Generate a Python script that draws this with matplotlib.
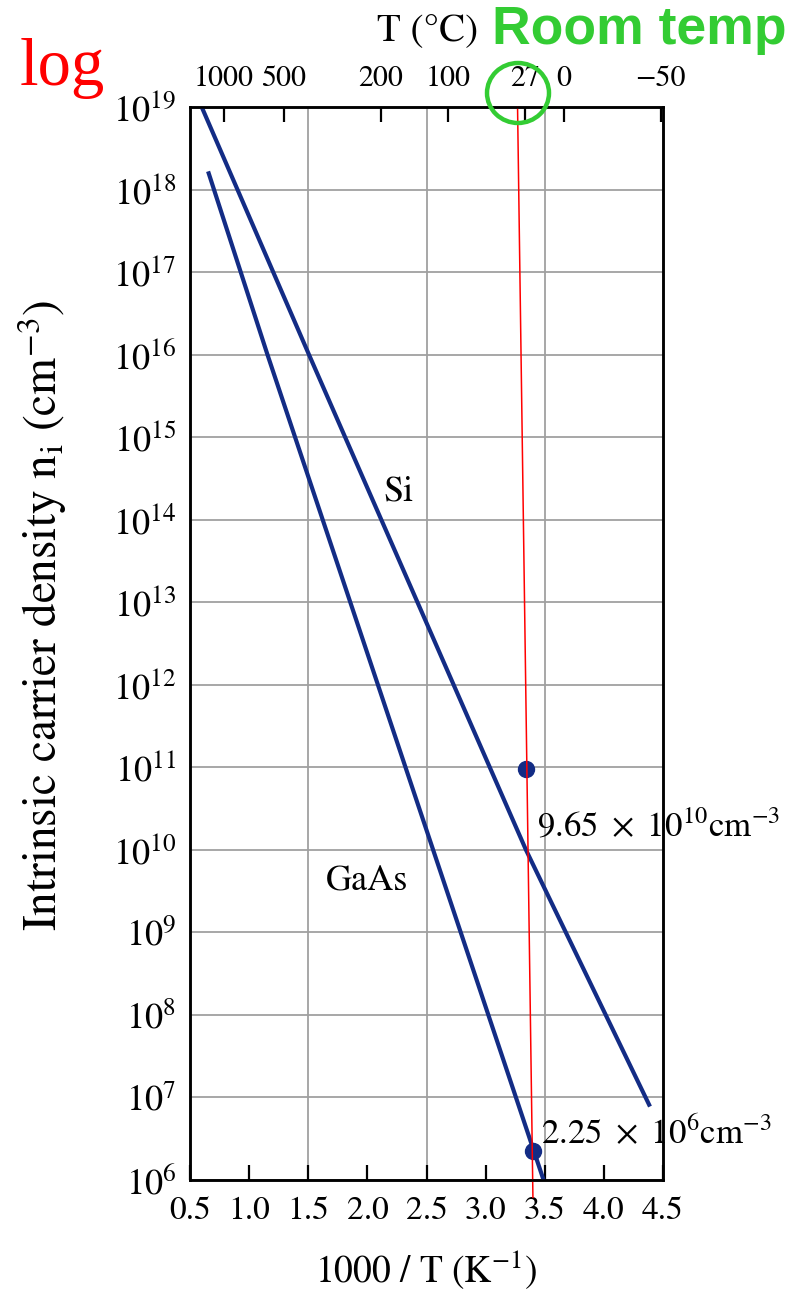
import numpy as np
import matplotlib
matplotlib.use("Agg")
import matplotlib.pyplot as plt
from matplotlib.patches import Ellipse
from matplotlib.ticker import NullLocator, FixedFormatter

plt.rcParams["font.family"] = ["STIXGeneral", "DejaVu Serif"]
plt.rcParams["mathtext.fontset"] = "stix"

# Intrinsic carrier density curves: 1000/T (1/K) vs n_i (cm^-3)
si_inv_t = [0.599, 1.506, 3.341, 4.39]
si_ni = [1e19, 1e16, 1e10, 10 ** 6.89]
gaas_inv_t = [0.653, 1.155, 3.49]
gaas_ni = [10 ** 18.22, 1e16, 1e6]

# Room-temperature values
si_rt_x, si_rt_ni = 3.34, 9.65e10
gaas_rt_x, gaas_rt_ni = 3.40, 2.25e6

# Axis ticks
bottom_ticks = [0.5, 1.0, 1.5, 2.0, 2.5, 3.0, 3.5, 4.0, 4.5]
top_celsius = [1000, 500, 200, 100, 27, 0, -50]
x_grid = [1.5, 2.5, 3.5]
decades = list(range(6, 20))

# Room-temperature guide line (1000/T, n_i)
rt_line_x = [3.27, 3.40]
rt_line_y = [1e19, 10 ** 5.79]

W, H = 801, 1298
fig = plt.figure(figsize=(W / 100, H / 100), dpi=100)
ax = fig.add_axes([190 / W, 1 - 1180 / H, 473 / W, 1073 / H])

navy = "#132c85"
ax.set_xlim(0.5, 4.5)
ax.set_yscale("log")
ax.set_ylim(1e6, 1e19)

for d in decades:
    ax.axhline(10.0 ** d, color="#a0a0a0", lw=1.3, zorder=1)
for xg in x_grid:
    ax.axvline(xg, color="#a0a0a0", lw=1.3, zorder=1)

ax.plot(si_inv_t, si_ni, color=navy, lw=3.0, zorder=3, solid_capstyle="butt")
ax.plot(gaas_inv_t, gaas_ni, color=navy, lw=3.0, zorder=3, solid_capstyle="butt")
ax.plot([si_rt_x, gaas_rt_x], [si_rt_ni, gaas_rt_ni], "o", color=navy,
        ms=11.5, zorder=4)

ax.plot(rt_line_x, rt_line_y, color="red", lw=1.1, zorder=5, clip_on=False)


def sci_label(v):
    e = int(np.floor(np.log10(v)))
    m = v / 10 ** e
    return rf"${m:.2f}\ \times\ 10^{{{e}}}\mathrm{{cm}}^{{-3}}$"


ax.text(3.434, 10 ** 10.28, sci_label(si_rt_ni), fontsize=25, va="center",
        ha="left", clip_on=False, zorder=6)
ax.text(3.468, 10 ** 6.555, sci_label(gaas_rt_ni), fontsize=25, va="center",
        ha="left", clip_on=False, zorder=6)
ax.text(2.259, 10 ** 14.34, "Si", fontsize=26, ha="center", va="center")
ax.text(1.997, 10 ** 9.62, "GaAs", fontsize=26, ha="center", va="center")

ax.set_yticks([10.0 ** d for d in decades])
ax.yaxis.set_major_formatter(
    FixedFormatter([rf"$10^{{{d}}}$" for d in decades]))
ax.yaxis.set_minor_locator(NullLocator())
ax.tick_params(axis="y", which="both", length=0, labelsize=26, pad=10)

ax.set_xticks(bottom_ticks)
ax.set_xticklabels([f"{t:.1f}" for t in bottom_ticks])
ax.tick_params(axis="x", direction="in", length=11, width=1.6, labelsize=24,
               pad=12)

top = ax.twiny()
top.set_xlim(ax.get_xlim())
top.set_xticks([1000.0 / (c + 273.15) for c in top_celsius])
top.set_xticklabels([str(c).replace("-", "\u2212") for c in top_celsius])
top.tick_params(axis="x", direction="in", length=11, width=1.6, labelsize=21.5,
                pad=10)

for a in (ax, top):
    for s in a.spines.values():
        s.set_linewidth(1.8)
        s.set_color("black")

ax.set_xlabel(r"1000 / T (K$^{-1}$)", fontsize=27, labelpad=16)
fig.text(42 / W, 1 - 615 / H,
         r"Intrinsic carrier density n$_\mathrm{i}$ (cm$^{-3}$)",
         rotation=90, fontsize=34, ha="center", va="center")
fig.text(428 / W, 1 - 32 / H, "T (\u00b0C)", fontsize=28, ha="center",
         va="center")

fig.text(62 / W, 1 - 85 / H, "log", fontsize=48, color="red", ha="center",
         va="baseline", family=["Liberation Serif", "DejaVu Serif"])
fig.text(639 / W, 1 - 30 / H, "Room temp", fontsize=38.5, color="#33cc33",
         fontweight="bold", ha="center", va="center",
         family=["Liberation Sans", "DejaVu Sans"])

ring = Ellipse((518 / W, 1 - 93 / H), 62 / W, 60 / H, transform=fig.transFigure,
               fill=False, edgecolor="#33cc33", lw=3.2)
fig.add_artist(ring)

fig.savefig("out.png", dpi=100, facecolor="white")
